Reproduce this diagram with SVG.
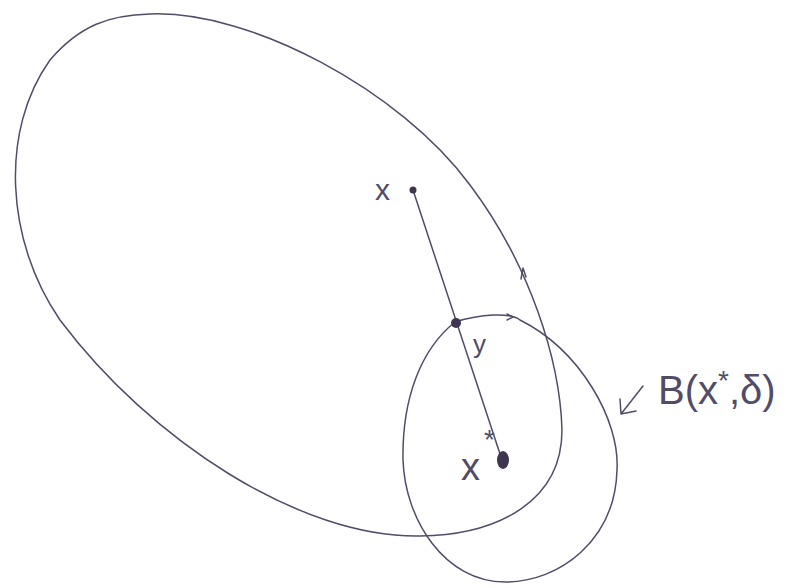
<svg xmlns="http://www.w3.org/2000/svg" width="787" height="588" viewBox="0 0 787 588">
<style>
.s{fill:none;stroke:#524c69;stroke-width:1.5;stroke-linecap:round;stroke-linejoin:round}
.d{fill:#3f3550}
.t{font-family:"Liberation Sans",Arial,sans-serif;fill:#524c69}
</style>
<rect width="787" height="588" fill="#fff"/>
<g id="set">
<path class="s" d="M150,14 C250,10 400,90 470,185 C530,265 560,360 562,430 C562,500 500,535 420,536 C300,538 150,440 60,320 C5,240 0,130 50,60 C80,25 110,15 150,14 Z"/>
<path class="s" d="M521,279 L523,268 L526,277"/>
</g>
<g id="ball">
<path class="s" d="M455,322 C480,314 510,312 520,320 C580,350 620,420 617,470 C615,540 560,582 505,582 C445,582 405,520 403,460 C402,400 420,350 455,322"/>
<path class="s" d="M507,314 L513,317 L507,320"/>
</g>
<g id="connectors">
<line class="s" x1="413" y1="190" x2="502" y2="460"/>
<path class="s" d="M643,386 L621,414 M620,399 L621,414 L636,411"/>
</g>
<g id="node-x">
<circle class="d" cx="413" cy="190" r="3.5"/>
<text class="t" x="375" y="200" font-size="30">x</text>
</g>
<g id="node-y">
<circle class="d" cx="456" cy="323" r="5"/>
<text class="t" x="473" y="353" font-size="26">y</text>
</g>
<g id="node-xstar">
<ellipse class="d" cx="503" cy="460" rx="6" ry="9"/>
<text class="t" x="461" y="480" font-size="38">x</text>
<text class="t" x="484" y="449" font-size="28">*</text>
</g>
<g id="label-ball">
<text class="t" x="658" y="404" font-size="40">B(x<tspan font-size="28" dy="-14">*</tspan><tspan dy="14">,δ)</tspan></text>
</g>
</svg>
